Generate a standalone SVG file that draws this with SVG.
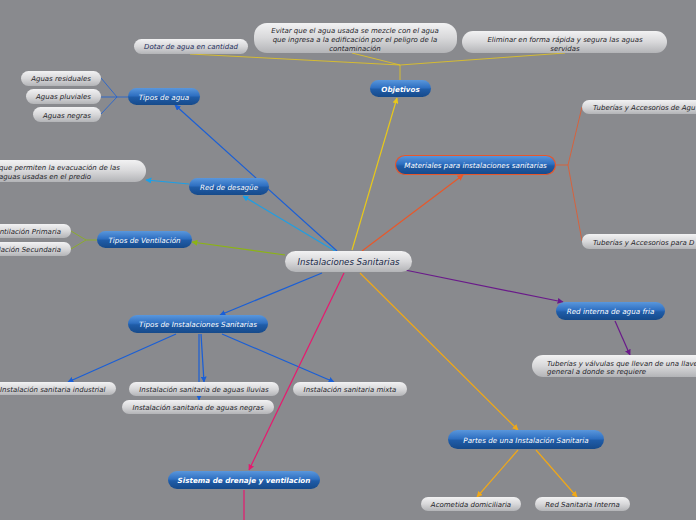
<svg xmlns="http://www.w3.org/2000/svg" width="696" height="520" viewBox="0 0 696 520">
<defs>
<linearGradient id="gBlue" x1="0" y1="0" x2="0" y2="1">
<stop offset="0" stop-color="#5a97dc"/>
<stop offset="0.45" stop-color="#2f70c2"/>
<stop offset="0.55" stop-color="#1f5ca8"/>
<stop offset="1" stop-color="#164a8a"/>
</linearGradient>
<linearGradient id="gGrey" x1="0" y1="0" x2="0" y2="1">
<stop offset="0" stop-color="#f2f2f3"/>
<stop offset="0.5" stop-color="#d8d8da"/>
<stop offset="1" stop-color="#b3b4b7"/>
</linearGradient>
<marker id="aY" viewBox="0 0 10 10" refX="9" refY="5" markerWidth="5" markerHeight="5" orient="auto"><path d="M0,0 L10,5 L0,10 z" fill="#e8c81a"/></marker>
<marker id="aB" viewBox="0 0 10 10" refX="9" refY="5" markerWidth="5" markerHeight="5" orient="auto"><path d="M0,0 L10,5 L0,10 z" fill="#1a5fd6"/></marker>
<marker id="aC" viewBox="0 0 10 10" refX="9" refY="5" markerWidth="5" markerHeight="5" orient="auto"><path d="M0,0 L10,5 L0,10 z" fill="#1aa0e8"/></marker>
<marker id="aG" viewBox="0 0 10 10" refX="9" refY="5" markerWidth="5" markerHeight="5" orient="auto"><path d="M0,0 L10,5 L0,10 z" fill="#8cb414"/></marker>
<marker id="aO" viewBox="0 0 10 10" refX="9" refY="5" markerWidth="5" markerHeight="5" orient="auto"><path d="M0,0 L10,5 L0,10 z" fill="#e8582a"/></marker>
<marker id="aP" viewBox="0 0 10 10" refX="9" refY="5" markerWidth="5" markerHeight="5" orient="auto"><path d="M0,0 L10,5 L0,10 z" fill="#6a1a8a"/></marker>
<marker id="aK" viewBox="0 0 10 10" refX="9" refY="5" markerWidth="5" markerHeight="5" orient="auto"><path d="M0,0 L10,5 L0,10 z" fill="#e8186e"/></marker>
<marker id="aA" viewBox="0 0 10 10" refX="9" refY="5" markerWidth="5" markerHeight="5" orient="auto"><path d="M0,0 L10,5 L0,10 z" fill="#f0a818"/></marker>
</defs>
<style>
text{font-family:"DejaVu Sans","Liberation Sans",sans-serif;font-style:italic}
.blue rect{fill:url(#gBlue)}
.blue text{fill:#ffffff;font-size:7.2px;text-anchor:middle}
.leaf rect{fill:url(#gGrey)}
.leaf text{fill:#1e1e28;font-size:7px;text-anchor:middle}
.c{fill:none;stroke-width:1.2}
.t{fill:none;stroke-width:0.8}
</style>
<rect x="0" y="0" width="696" height="520" fill="#898a8e"/>
<g id="connectors">
<path class="c" d="M352,250 L397,98" stroke="#e8c81a" marker-end="url(#aY)"/>
<path class="t" d="M400,80 L400,65 M400,65 L190,54 M400,65 L352,53 M400,65 L565,53" stroke="#e8c81a"/>
<path class="c" d="M337,251 L175,105" stroke="#1a5fd6" marker-end="url(#aB)"/>
<path class="t" d="M128,97 L117,97 L101,78 M117,97 L101,97 M117,97 L101,114" stroke="#1a5fd6"/>
<path class="c" d="M335,251 L243,196" stroke="#1aa0e8" marker-end="url(#aC)"/>
<path class="c" d="M189,184 L146,180" stroke="#1aa0e8" marker-end="url(#aC)"/>
<path class="c" d="M285,255 L192,242" stroke="#8cb414" marker-end="url(#aG)"/>
<path class="t" d="M97,240 L86,240 L71,231 M86,240 L71,249" stroke="#8cb414"/>
<path class="c" d="M362,251 L463,175" stroke="#e8582a" marker-end="url(#aO)"/>
<path class="t" d="M556,165 L568,165 L582,107 M568,165 L582,241" stroke="#e8582a"/>
<path class="c" d="M405,270 L563,302" stroke="#6a1a8a" marker-end="url(#aP)"/>
<path class="c" d="M615,321 L630,355" stroke="#6a1a8a" marker-end="url(#aP)"/>
<path class="c" d="M322,273 L220,315" stroke="#1a5fd6" marker-end="url(#aB)"/>
<path class="c" d="M176,334 L68,382" stroke="#1a5fd6" marker-end="url(#aB)"/>
<path class="c" d="M199,334 L199,400" stroke="#1a5fd6" marker-end="url(#aB)"/>
<path class="c" d="M201,334 L204,382" stroke="#1a5fd6" marker-end="url(#aB)"/>
<path class="c" d="M222,334 L334,382" stroke="#1a5fd6" marker-end="url(#aB)"/>
<path class="c" d="M344,273 L249,470" stroke="#e8186e" marker-end="url(#aK)"/>
<path class="c" d="M244,490 L244,520" stroke="#e8186e"/>
<path class="c" d="M360,273 L518,430" stroke="#f0a818" marker-end="url(#aA)"/>
<path class="c" d="M518,450 L477,497" stroke="#f0a818" marker-end="url(#aA)"/>
<path class="c" d="M536,450 L577,497" stroke="#f0a818" marker-end="url(#aA)"/>
</g>
<g id="central" class="leaf">
<rect x="285" y="251" width="127" height="21" rx="10.5"/>
<text x="348.5" y="265" style="font-size:8.6px;fill:#1a2a4a">Instalaciones Sanitarias</text>
</g>
<g id="objetivos" class="blue">
<rect x="370" y="80" width="61" height="17" rx="8.5"/>
<text x="400.5" y="91.5" style="font-weight:bold">Objetivos</text>
</g>
<g id="dotar" class="leaf">
<rect x="134" y="39" width="114" height="15" rx="7.5"/>
<text x="191" y="49" style="fill:#1a2a5a">Dotar de agua en cantidad</text>
</g>
<g id="evitar" class="leaf">
<rect x="254" y="23" width="203" height="30" rx="13"/>
<text x="355" y="32.5">Evitar que el agua usada se mezcle con el agua</text>
<text x="355" y="41.5">que ingresa a la edificación por el peligro de la</text>
<text x="355" y="50.5">contaminación</text>
</g>
<g id="eliminar" class="leaf">
<rect x="462" y="31" width="205" height="22" rx="11"/>
<text x="565" y="41.5">Eliminar en forma rápida y segura las aguas</text>
<text x="565" y="50.5">servidas</text>
</g>
<g id="tipos-agua" class="blue">
<rect x="128" y="88" width="72" height="17" rx="8.5"/>
<text x="164" y="99.5">Tipos de agua</text>
</g>
<g id="residuales" class="leaf">
<rect x="21" y="71" width="80" height="15" rx="7.5"/>
<text x="61" y="81">Aguas residuales</text>
</g>
<g id="pluviales" class="leaf">
<rect x="26" y="89" width="75" height="15" rx="7.5"/>
<text x="63.5" y="99">Aguas pluviales</text>
</g>
<g id="negras" class="leaf">
<rect x="33" y="107" width="68" height="15" rx="7.5"/>
<text x="67" y="117.5">Aguas negras</text>
</g>
<g id="red-desague" class="blue">
<rect x="189" y="178" width="80" height="17" rx="8.5"/>
<text x="229" y="189.5">Red de desagüe</text>
</g>
<g id="evacuacion" class="leaf">
<rect x="-60" y="160" width="206" height="22" rx="11"/>
<text x="-1" y="170" style="text-anchor:start">que permiten la evacuación de las</text>
<text x="-1" y="178.5" style="text-anchor:start">aguas usadas en el predio</text>
</g>
<g id="tipos-ventilacion" class="blue">
<rect x="97" y="231" width="95" height="17" rx="8.5"/>
<text x="144.5" y="242.5">Tipos de Ventilación</text>
</g>
<g id="vent-primaria" class="leaf">
<rect x="-40" y="224" width="111" height="14" rx="7"/>
<text x="61" y="233.5" style="text-anchor:end">ntilación Primaria</text>
</g>
<g id="vent-secundaria" class="leaf">
<rect x="-40" y="242" width="111" height="14" rx="7"/>
<text x="61" y="252" style="text-anchor:end">lación Secundaria</text>
</g>
<g id="materiales" class="blue">
<rect x="395.5" y="155.5" width="160" height="19" rx="9.5" stroke="#e8562a" stroke-width="1.2"/>
<text x="475.5" y="168">Materiales para instalaciones sanitarias</text>
</g>
<g id="tub-agua" class="leaf">
<rect x="582" y="100" width="140" height="14" rx="7"/>
<text x="593" y="110" style="text-anchor:start">Tuberías y Accesorios de Agu</text>
</g>
<g id="tub-desague" class="leaf">
<rect x="582" y="234" width="140" height="15" rx="7"/>
<text x="593" y="244.5" style="text-anchor:start">Tuberías y Accesorios para D</text>
</g>
<g id="red-interna" class="blue">
<rect x="556" y="302" width="109" height="18" rx="9"/>
<text x="610.5" y="314">Red interna de agua fria</text>
</g>
<g id="tuberias-valvulas" class="leaf">
<rect x="532" y="355" width="190" height="22" rx="11"/>
<text x="547" y="365.5" style="text-anchor:start">Tuberías y válvulas que llevan de una llave</text>
<text x="547" y="374" style="text-anchor:start">general a donde se requiere</text>
</g>
<g id="tipos-instalaciones" class="blue">
<rect x="128" y="315" width="140" height="18" rx="9"/>
<text x="198" y="327">Tipos de Instalaciones Sanitarias</text>
</g>
<g id="industrial" class="leaf">
<rect x="-20" y="382" width="136" height="13" rx="6.5"/>
<text x="0" y="391.5" style="text-anchor:start">Instalación sanitaria industrial</text>
</g>
<g id="lluvias" class="leaf">
<rect x="129" y="382" width="150" height="14" rx="7"/>
<text x="204" y="392">Instalación sanitaria de aguas lluvias</text>
</g>
<g id="aguas-negras" class="leaf">
<rect x="122" y="400" width="152" height="14" rx="7"/>
<text x="198" y="410">Instalación sanitaria de aguas negras</text>
</g>
<g id="mixta" class="leaf">
<rect x="293" y="382" width="114" height="14" rx="7"/>
<text x="350" y="392">Instalación sanitaria mixta</text>
</g>
<g id="sistema" class="blue">
<rect x="168" y="471" width="152" height="18" rx="9"/>
<text x="244" y="483" style="font-weight:bold">Sistema de drenaje y ventilacion</text>
</g>
<g id="partes" class="blue">
<rect x="448" y="430" width="156" height="19" rx="9.5"/>
<text x="526" y="442.5">Partes de una Instalación Sanitaria</text>
</g>
<g id="acometida" class="leaf">
<rect x="421" y="497" width="100" height="14" rx="7"/>
<text x="471" y="507">Acometida domiciliaria</text>
</g>
<g id="red-sanitaria" class="leaf">
<rect x="535" y="497" width="95" height="14" rx="7"/>
<text x="582.5" y="507">Red Sanitaria Interna</text>
</g>
</svg>
